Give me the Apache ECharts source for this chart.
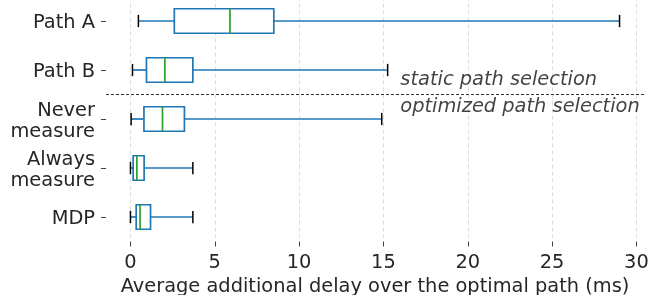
<!DOCTYPE html>
<html>
<head>
<meta charset="utf-8">
<script src="https://cdn.jsdelivr.net/npm/echarts@6/dist/echarts.min.js"></script>
<style>html,body{margin:0;padding:0;background:#fff;}#c{width:650px;height:295px;}</style>
</head>
<body>
<div id="c"></div>
<script>
var categories = ['Path A', 'Path B', 'Never\nmeasure', 'Always\nmeasure', 'MDP'];
var whiskerLow = [0.47, 0.12, 0.04, 0.0, 0.0];
var q1 = [2.6, 0.95, 0.8, 0.16, 0.34];
var median = [5.9, 2.04, 1.9, 0.38, 0.57];
var q3 = [8.5, 3.7, 3.2, 0.81, 1.19];
var whiskerHigh = [29.0, 15.25, 14.9, 3.7, 3.7];
var xTicks = [0, 5, 10, 15, 20, 25, 30];
var separatorAt = 2.5;
var annotations = [
  [16, 2.2, 'static path selection'],
  [16, 2.76, 'optimized path selection']
];

var FONT = 'DejaVu Sans';
var FS = 19.4;
var TXT = '#262626';
var BLUE = '#1f77b4';
var GREEN = '#2ca02c';

var boxData = categories.map(function (c, i) {
  return [i, whiskerLow[i], q1[i], median[i], q3[i], whiskerHigh[i]];
});

var chart = echarts.init(document.getElementById('c'), null, {renderer: 'canvas'});
chart.setOption({
  animation: false,
  backgroundColor: '#fff',
  grid: {left: 106, right: 6, top: -3.5, height: 245, outerBoundsMode: 'none', containLabel: false},
  xAxis: {
    type: 'value', min: -1.45, max: 30.45,
    axisLine: {show: false, onZero: false},
    axisTick: {show: true, length: 5, lineStyle: {color: '#444'}, customValues: xTicks},
    axisLabel: {fontFamily: FONT, fontSize: FS, color: TXT, margin: 12, customValues: xTicks},
    splitLine: {show: true, lineStyle: {color: '#dddddd', type: [4, 3], width: 1}},
    name: 'Average additional delay over the optimal path (ms)',
    nameLocation: 'middle', nameGap: 36,
    nameTextStyle: {fontFamily: FONT, fontSize: FS, color: TXT}
  },
  yAxis: [{
    type: 'category', data: categories, inverse: true, boundaryGap: true,
    axisLine: {show: false, onZero: false},
    axisTick: {show: true, length: 5, alignWithLabel: true, lineStyle: {color: '#444'}},
    axisLabel: {
      margin: 11, align: 'right',
      formatter: function (v) {
        return v.split('\n').map(function (s) { return '{a|' + s + '}'; }).join('\n');
      },
      rich: {a: {fontFamily: FONT, fontSize: FS, color: TXT, lineHeight: 21, padding: [4, 0, 0, 0]}}
    },
    splitLine: {show: false}
  }, {
    type: 'value', min: 0.5, max: 5.5, inverse: true, show: false,
    axisLine: {onZero: false}
  }],
  series: [{
    type: 'custom',
    xAxisIndex: 0, yAxisIndex: 0,
    encode: {y: 0, x: [1, 2, 3, 4, 5]},
    data: boxData,
    renderItem: function (params, api) {
      var idx = api.value(0);
      var pLow = api.coord([api.value(1), idx]);
      var pQ1 = api.coord([api.value(2), idx]);
      var pMed = api.coord([api.value(3), idx]);
      var pQ3 = api.coord([api.value(4), idx]);
      var pHigh = api.coord([api.value(5), idx]);
      var band = api.size([0, 1])[1];
      var hb = band * 0.25, hc = band * 0.125, y = pMed[1];
      var blue = {stroke: BLUE, lineWidth: 1.7, fill: null};
      return {
        type: 'group',
        children: [
          {type: 'line', shape: {x1: pLow[0], y1: y, x2: pQ1[0], y2: y}, style: blue},
          {type: 'line', shape: {x1: pQ3[0], y1: y, x2: pHigh[0], y2: y}, style: blue},
          {type: 'line', shape: {x1: pLow[0], y1: y - hc, x2: pLow[0], y2: y + hc}, style: {stroke: '#000', lineWidth: 1.5}},
          {type: 'line', shape: {x1: pHigh[0], y1: y - hc, x2: pHigh[0], y2: y + hc}, style: {stroke: '#000', lineWidth: 1.5}},
          {type: 'rect', shape: {x: pQ1[0], y: y - hb, width: pQ3[0] - pQ1[0], height: 2 * hb}, style: {stroke: BLUE, lineWidth: 1.7, fill: '#fff'}},
          {type: 'line', shape: {x1: pMed[0], y1: y - hb, x2: pMed[0], y2: y + hb}, style: {stroke: GREEN, lineWidth: 1.7}}
        ]
      };
    }
  }, {
    type: 'scatter',
    xAxisIndex: 0, yAxisIndex: 1,
    symbolSize: 0,
    data: annotations,
    label: {
      show: true, position: 'right', distance: 0,
      formatter: function (p) { return p.data[2]; },
      fontFamily: FONT, fontSize: FS, fontStyle: 'italic', color: '#111'
    },
    markLine: {
      silent: true, symbol: 'none',
      label: {show: false},
      lineStyle: {color: '#000', type: [3, 2], width: 0.8},
      data: [{yAxis: separatorAt}]
    }
  }]
});
</script>
</body>
</html>
